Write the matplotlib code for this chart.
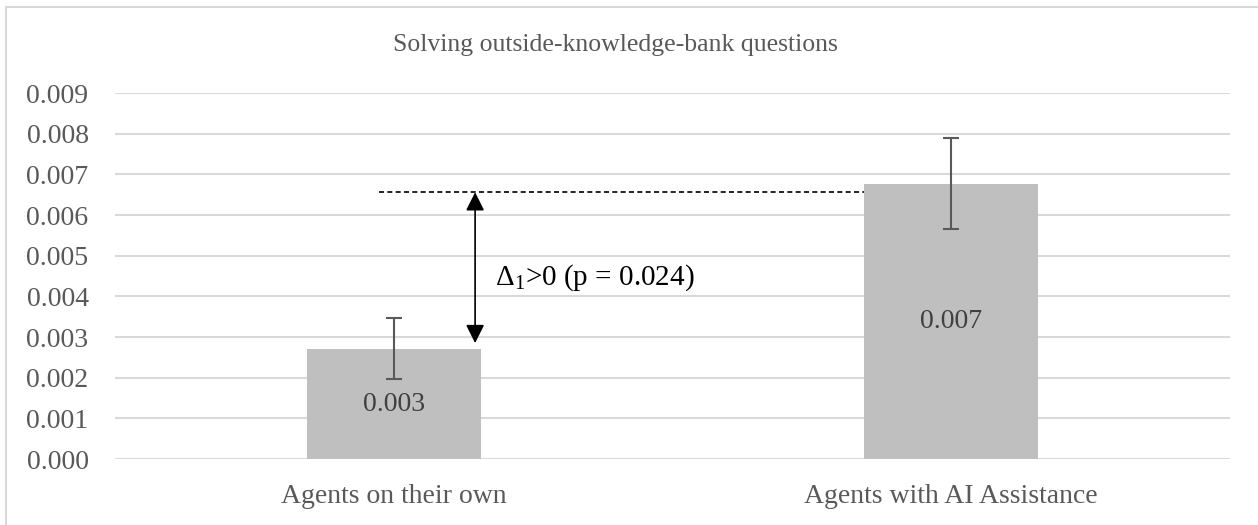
import numpy as np
import matplotlib
matplotlib.use("Agg")
import matplotlib.pyplot as plt
from matplotlib.patches import Rectangle

plt.rcParams['font.family'] = ['Liberation Serif', 'DejaVu Serif']
plt.rcParams['mathtext.fontset'] = 'custom'
plt.rcParams['mathtext.rm'] = 'Liberation Serif'

# --- data ---
categories = ["Agents on their own", "Agents with AI Assistance"]
means = [0.00270, 0.00677]
err_low = [0.00073, 0.00112]
err_high = [0.00077, 0.00112]
value_labels = ["0.003", "0.007"]
diff_level = 0.00656
arrow_bottom = 0.00285
p_text = "Δ$_{\\mathrm{1}}$>0 (p = 0.024)"

text_grey = "#595959"

fig = plt.figure(figsize=(12.58, 5.25), dpi=100)
fig.patches.append(Rectangle((0.005, -0.01), 1.2, 0.997, transform=fig.transFigure,
                             fill=False, edgecolor="#D9D9D9", linewidth=1.5))
ax = fig.add_axes([0.0914, 0.1257, 0.8863, 0.6971])

x = np.arange(len(categories))
ax.bar(x, means, width=0.312, color="#BFBFBF", zorder=2)
ax.errorbar(x, means, yerr=[err_low, err_high], fmt="none", ecolor=text_grey,
            elinewidth=1.5, capsize=6, capthick=1.5, zorder=3)

for xi, m, lab in zip(x, means, value_labels):
    ax.text(xi, m / 2, lab, ha="center", va="center", fontsize=20, color="#404040", zorder=4)

# difference annotation
ax.plot([-0.026, 0.844], [diff_level, diff_level], color="black", linestyle=(0, (3, 2)),
        linewidth=1.2, zorder=4)
ax.annotate("", xy=(0.146, diff_level), xytext=(0.146, arrow_bottom),
            arrowprops=dict(arrowstyle="<|-|>", color="black", lw=1.2,
                            mutation_scale=28, shrinkA=0, shrinkB=0), zorder=5)
ax.text(0.182, 0.00445, p_text, ha="left", va="center", fontsize=21, color="black")

ax.set_xlim(-0.5, 1.5)
ax.set_ylim(0, 0.009)
ax.set_yticks(np.arange(0, 0.0091, 0.001))
ax.set_yticklabels([f"{v:.3f}" for v in np.arange(0, 0.0091, 0.001)])
ax.set_xticks(x)
ax.set_xticklabels(categories)
ax.tick_params(axis="y", length=0, pad=19, labelsize=20, labelcolor=text_grey)
ax.tick_params(axis="x", length=0, pad=18, labelsize=20, labelcolor=text_grey)
ax.grid(axis="y", color="#D9D9D9", linewidth=1.5, zorder=0)
ax.set_axisbelow(True)
for s in ax.spines.values():
    s.set_visible(False)

fig.text(0.489, 0.915, "Solving outside-knowledge-bank questions", ha="center",
         va="center", fontsize=18.5, color=text_grey)

fig.savefig("out.png", dpi=100)
